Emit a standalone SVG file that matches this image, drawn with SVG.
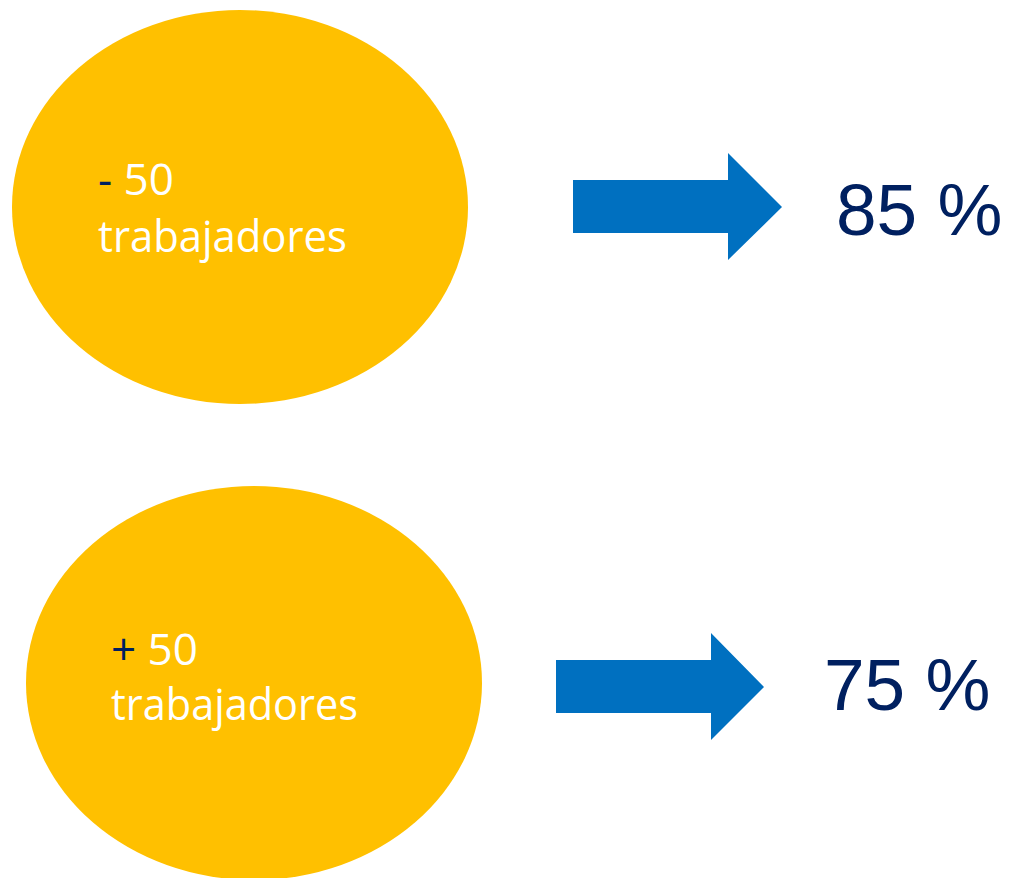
<svg xmlns="http://www.w3.org/2000/svg" width="1012" height="878" viewBox="0 0 1012 878">
<style>
.circ{fill:#FFC000}
.lbl{font-family:"Open Sans","Noto Sans",sans-serif;font-size:44px;fill:#FFFFFF}
.sign{fill:#002060}
.arrow{fill:#0070C0}
.pct{font-family:"Liberation Sans",Arial,sans-serif;font-size:73px;fill:#002060}
</style>
<rect width="1012" height="878" fill="#FFFFFF"/>
<g id="node-menos50">
<ellipse class="circ" cx="240" cy="207" rx="228" ry="197"/>
<text class="lbl" x="98" y="195"><tspan class="sign">-</tspan> 50</text>
<text class="lbl" x="98" y="252" textLength="249" lengthAdjust="spacingAndGlyphs">trabajadores</text>
</g>
<g id="node-mas50">
<ellipse class="circ" cx="254" cy="683" rx="228" ry="197"/>
<text class="lbl" x="111" y="665"><tspan class="sign">+</tspan> 50</text>
<text class="lbl" x="111" y="720" textLength="247" lengthAdjust="spacingAndGlyphs">trabajadores</text>
</g>
<g id="connectors">
<polygon class="arrow" points="573,180 728,180 728,153 782,207 728,260 728,233 573,233"/>
<polygon class="arrow" points="556,660 711,660 711,633 764,687 711,740 711,713 556,713"/>
</g>
<g id="node-85">
<text class="pct" x="836" y="235">85 %</text>
</g>
<g id="node-75">
<text class="pct" x="824" y="710">75 %</text>
</g>
</svg>
